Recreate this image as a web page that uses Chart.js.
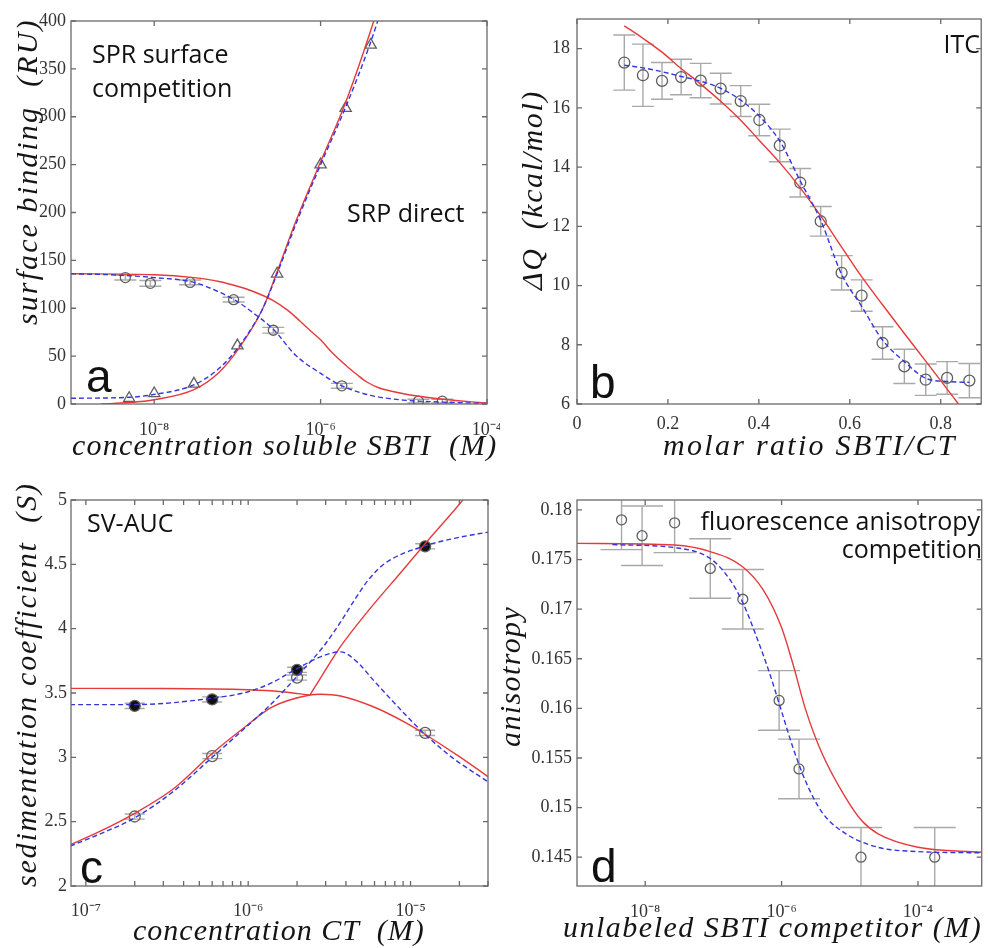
<!DOCTYPE html>
<html><head><meta charset="utf-8">
<script src="https://cdn.jsdelivr.net/npm/chart.js@4.4.1/dist/chart.umd.min.js"></script>
<style>
html,body{margin:0;padding:0;background:#fff;}
#wrap{position:relative;width:988px;height:948px;overflow:hidden;background:#fff;}
canvas{position:absolute;}
</style></head><body>
<div id="wrap">
<canvas id="ca" width="500" height="470" style="left:0px;top:0px;width:500px;height:470px"></canvas>
<canvas id="cb" width="488" height="470" style="left:500px;top:0px;width:488px;height:470px"></canvas>
<canvas id="cc" width="500" height="478" style="left:0px;top:470px;width:500px;height:478px"></canvas>
<canvas id="cd" width="488" height="478" style="left:500px;top:470px;width:488px;height:478px"></canvas>
</div>
<script>
// ---------------- Panel a : SPR ----------------
const aCircX = [4.5e-9, 9e-9, 2.7e-8, 9e-8, 2.7e-7, 1.8e-6, 1.5e-5, 2.9e-5];
const aCircY = [132, 126, 127, 109, 77, 19, 3, 3];
const aCircErr = [2.5, 3, 2.5, 2.5, 3, 2.5, 2, 2];
const aTriX = [5e-9, 1e-8, 3e-8, 1e-7, 3e-7, 1e-6, 2e-6, 4e-6];
const aTriY = [6, 11, 21, 61, 136, 250, 309, 375];
const aBlueCompX = [1e-9, 3e-9, 1e-8, 3e-8, 6e-8, 1e-7, 1.5e-7, 2.7e-7, 5e-7, 1e-6, 1.8e-6, 4e-6, 1e-5, 3e-5, 1e-4];
const aBlueCompY = [136, 135, 132, 127, 117, 107, 96, 78, 51, 32, 19, 9, 4, 2, 0.5];
const aRedCompX = [1e-9, 1e-8, 3e-8, 6e-8, 1e-7, 1.5e-7, 2.7e-7, 4e-7, 5.6e-7, 7e-7, 1e-6, 1.4e-6, 2.1e-6, 2.8e-6, 3.6e-6, 5e-6, 9e-6, 2.3e-5, 1e-4];
const aRedCompY = [136, 135, 132, 128, 123, 118, 108, 98, 87, 79, 67, 53, 39, 30, 23, 17, 11.5, 6, 1];
const aBlueDirX = [1e-9, 5e-9, 1e-8, 3e-8, 6e-8, 1e-7, 1.5e-7, 2e-7, 3e-7, 5e-7, 1e-6, 2e-6, 4e-6, 6e-6];
const aBlueDirY = [6, 7, 10, 20, 37, 58, 80, 99, 136, 187, 250, 310, 378, 425];
const aRedDirX = [2.3e-9, 5e-9, 1e-8, 3e-8, 6e-8, 1e-7, 2e-7, 3e-7, 5e-7, 1e-6, 2e-6, 4e-6, 6e-6];
const aRedDirY = [0, 1.5, 4.5, 15, 33, 56, 99, 138, 190, 253, 315, 390, 440];
const aXTicks = [1e-8, 1e-6, 1e-4];
const aXTickLabels = ['10\u207B\u2078', '10\u207B\u2076', '10\u207B\u2074'];
const aYTicks = [0, 50, 100, 150, 200, 250, 300, 350, 400];
const aYTickLabels = ['0', '50', '100', '150', '200', '250', '300', '350', '400'];

// ---------------- Panel b : ITC ----------------
const bX = [0.104, 0.145, 0.187, 0.229, 0.272, 0.316, 0.360, 0.401, 0.446, 0.491, 0.536, 0.582, 0.626, 0.672, 0.720, 0.767, 0.814, 0.863];
const bY = [17.53, 17.10, 16.91, 17.04, 16.92, 16.65, 16.23, 15.59, 14.73, 13.47, 12.17, 10.43, 9.66, 8.06, 7.27, 6.82, 6.88, 6.79];
const bErr = [0.93, 1.05, 0.62, 0.6, 0.58, 0.52, 0.52, 0.53, 0.55, 0.48, 0.5, 0.58, 0.53, 0.55, 0.58, 0.53, 0.55, 0.58];
const bBlueY = [17.44, 17.35, 17.22, 17.06, 16.9, 16.66, 16.26, 15.72, 14.88, 13.53, 12.2, 10.38, 9.3, 8.16, 7.43, 6.87, 6.76, 6.73];
const bRedX = [0.104, 0.145, 0.187, 0.229, 0.272, 0.316, 0.360, 0.401, 0.446, 0.491, 0.536, 0.582, 0.626, 0.672, 0.720, 0.767, 0.839];
const bRedY = [18.77, 18.35, 17.88, 17.33, 16.8, 16.22, 15.58, 14.9, 14.15, 13.3, 12.35, 11.3, 10.3, 9.35, 8.38, 7.45, 6.0];
const bXTicks = [0, 0.2, 0.4, 0.6, 0.8];
const bXTickLabels = ['0', '0.2', '0.4', '0.6', '0.8'];
const bYTicks = [6, 8, 10, 12, 14, 16, 18];
const bYTickLabels = ['6', '8', '10', '12', '14', '16', '18'];

// ---------------- Panel c : SV-AUC ----------------
const cX = [2e-7, 6e-7, 2e-6, 1.23e-5];
const cFilledY = [3.40, 3.45, 3.68, 4.64];
const cOpenY = [2.54, 3.01, 3.62, 3.19];
const cErr = [0.02, 0.02, 0.02, 0.02];
const cBlueAX = [8e-8, 2e-7, 6e-7, 1e-6, 1.4e-6, 2e-6, 2.9e-6, 3.7e-6, 4.7e-6, 5.9e-6, 8.7e-6, 1.2e-5, 1.8e-5, 3e-5];
const cBlueAY = [3.41, 3.41, 3.46, 3.51, 3.58, 3.69, 3.79, 3.82, 3.74, 3.60, 3.37, 3.19, 3.0, 2.81];
const cBlueBX = [8e-8, 1.2e-7, 2e-7, 3.5e-7, 6e-7, 1e-6, 1.4e-6, 2e-6, 2.9e-6, 3.7e-6, 4.5e-6, 5.5e-6, 7e-6, 1.2e-5, 2e-5, 3e-5];
const cBlueBY = [2.31, 2.40, 2.53, 2.74, 3.0, 3.25, 3.42, 3.63, 3.86, 4.05, 4.22, 4.38, 4.51, 4.64, 4.71, 4.75];
const cRedFlatX = [8e-8, 3e-7, 1e-6, 1.6e-6, 2.4e-6];
const cRedFlatY = [3.536, 3.535, 3.525, 3.51, 3.484];
const cRedRiseX = [2.4e-6, 2.8e-6, 3.7e-6, 5.5e-6, 8.9e-6, 1.23e-5, 2.1e-5, 3e-5];
const cRedRiseY = [3.484, 3.62, 3.86, 4.14, 4.45, 4.66, 5.0, 5.25];
const cRedLowX = [8e-8, 1.2e-7, 2e-7, 3.5e-7, 6e-7, 9e-7, 1.4e-6, 2.4e-6, 2.8e-6, 3.7e-6, 5.9e-6, 9.5e-6, 1.2e-5, 2e-5, 3e-5];
const cRedLowY = [2.32, 2.42, 2.565, 2.76, 3.03, 3.21, 3.39, 3.484, 3.49, 3.477, 3.393, 3.264, 3.187, 3.005, 2.85];
const cXTicks = [1e-7, 1e-6, 1e-5];
const cXTickLabels = ['10\u207B\u2077', '10\u207B\u2076', '10\u207B\u2075'];
const cXMinorTicks = [2e-7, 3e-7, 4e-7, 5e-7, 6e-7, 7e-7, 8e-7, 9e-7, 2e-6, 3e-6, 4e-6, 5e-6, 6e-6, 7e-6, 8e-6, 9e-6, 2e-5, 3e-5];
const cYTicks = [2, 2.5, 3, 3.5, 4, 4.5, 5];
const cYTickLabels = ['2', '2.5', '3', '3.5', '4', '4.5', '5'];

// ---------------- Panel d : fluorescence anisotropy ----------------
const dX = [4.5e-9, 9e-9, 2.7e-8, 9e-8, 2.7e-7, 9.2e-7, 1.8e-6, 1.46e-5, 1.76e-4];
const dY = [0.1790, 0.1774, 0.1787, 0.1741, 0.1710, 0.1608, 0.1539, 0.1450, 0.1450];
const dErr = [0.003, 0.003, 0.003, 0.003, 0.003, 0.003, 0.003, 0.003, 0.003];
const dBlueX = [3.3e-9, 2.7e-8, 9e-8, 1.78e-7, 2.68e-7, 4.3e-7, 6.7e-7, 9.9e-7, 1.46e-6, 2.27e-6, 3.94e-6, 8.6e-6, 2.6e-5, 1e-4, 8.6e-4];
const dBlueY = [0.1765, 0.1762, 0.1751, 0.1729, 0.1707, 0.1672, 0.1635, 0.1598, 0.1561, 0.1526, 0.1495, 0.1474, 0.1460, 0.14557, 0.14544];
const dRedX = [1e-9, 2.7e-8, 9e-8, 2.68e-7, 5.4e-7, 9.9e-7, 1.46e-6, 2.27e-6, 3.94e-6, 8.6e-6, 1.49e-5, 2.6e-5, 1e-4, 8.6e-4];
const dRedY = [0.17663, 0.17646, 0.17579, 0.17428, 0.17192, 0.16822, 0.16452, 0.1598, 0.15543, 0.15106, 0.1487, 0.14736, 0.14601, 0.1455];
const dXTicks = [1e-8, 1e-6, 1e-4];
const dXTickLabels = ['10\u207B\u2078', '10\u207B\u2076', '10\u207B\u2074'];
const dYTicks = [0.145, 0.15, 0.155, 0.16, 0.165, 0.17, 0.175, 0.18];
const dYTickLabels = ['0.145', '0.15', '0.155', '0.16', '0.165', '0.17', '0.175', '0.18'];

// ---------------- styles & helpers ----------------
const RED = '#e63a3a';
const BLUE = '#3535e0';
const MARK = '#5f5f5f';
const ERRC = '#a9a9a9';
const tickFont = {family: "'Liberation Serif', 'Times New Roman', serif", size: 18};
const tickColor = '#333';
const titleFont = "italic 30px 'Liberation Serif', serif";
const titleColor = '#151515';
const annFont = "25px 'Open Sans', 'Liberation Sans', sans-serif";
const letterFont = "46px 'Liberation Sans', Arial, sans-serif";

const pts = (xs, ys) => xs.map((x, i) => ({x: x, y: ys[i]}));

function fit(xs, ys, color, dashed) {
  return {data: pts(xs, ys), showLine: true, borderColor: color, borderWidth: 1.4,
    borderDash: dashed ? [5, 3] : [], pointRadius: 0, fill: false,
    cubicInterpolationMode: 'monotone', tension: 0.4};
}
function marks(xs, ys, errs, o) {
  return {data: pts(xs, ys), showLine: false, pointStyle: o.style || 'circle',
    pointRadius: o.r || 5, borderColor: MARK, borderWidth: 1.3,
    backgroundColor: o.fill || 'rgba(0,0,0,0)', errY: errs, capHalf: o.cap || 11};
}

const errPlugin = {
  id: 'errbars',
  beforeDatasetsDraw(chart) {
    const ctx = chart.ctx, a = chart.chartArea, xs = chart.scales.x, ys = chart.scales.y;
    ctx.save();
    ctx.beginPath(); ctx.rect(a.left, a.top, a.right - a.left, a.bottom - a.top); ctx.clip();
    ctx.strokeStyle = ERRC; ctx.lineWidth = 1.4;
    chart.data.datasets.forEach(ds => {
      if (!ds.errY) return;
      ds.data.forEach((p, i) => {
        const x = xs.getPixelForValue(p.x);
        const y1 = ys.getPixelForValue(p.y - ds.errY[i]);
        const y2 = ys.getPixelForValue(p.y + ds.errY[i]);
        const c = ds.capHalf;
        ctx.beginPath();
        ctx.moveTo(x, y1); ctx.lineTo(x, y2);
        ctx.moveTo(x - c, y1); ctx.lineTo(x + c, y1);
        ctx.moveTo(x - c, y2); ctx.lineTo(x + c, y2);
        ctx.stroke();
      });
    });
    ctx.restore();
  }
};

function makeBox(xTicks, yTicks) {
  return {
    id: 'box',
    afterDatasetsDraw(chart) {
      const ctx = chart.ctx, a = chart.chartArea, xs = chart.scales.x, ys = chart.scales.y;
      const L = 5;
      ctx.save();
      ctx.strokeStyle = '#6a6a6a'; ctx.lineWidth = 1.3;
      ctx.beginPath();
      xTicks.forEach(v => {
        const p = xs.getPixelForValue(v);
        ctx.moveTo(p, a.bottom); ctx.lineTo(p, a.bottom - L);
        ctx.moveTo(p, a.top); ctx.lineTo(p, a.top + L);
      });
      yTicks.forEach(v => {
        const p = ys.getPixelForValue(v);
        ctx.moveTo(a.left, p); ctx.lineTo(a.left + L, p);
        ctx.moveTo(a.right, p); ctx.lineTo(a.right - L, p);
      });
      ctx.stroke();
      ctx.strokeRect(a.left, a.top, a.right - a.left, a.bottom - a.top);
      ctx.restore();
    }
  };
}

function makeTexts(items) {
  return {
    id: 'texts',
    afterDraw(chart) {
      const ctx = chart.ctx;
      items.forEach(it => {
        ctx.save();
        ctx.font = it.font; ctx.fillStyle = it.color || '#111';
        ctx.textAlign = it.align || 'left'; ctx.textBaseline = 'alphabetic';
        if ('letterSpacing' in ctx) ctx.letterSpacing = (it.ls || 0) + 'px';
        ctx.translate(it.x, it.y);
        if (it.rot) ctx.rotate(it.rot);
        ctx.fillText(it.text, 0, 0);
        ctx.restore();
      });
    }
  };
}

function makeChart(id, c) {
  return new Chart(document.getElementById(id), {
    type: 'scatter',
    data: {datasets: c.datasets},
    options: {
      responsive: false, animation: false, events: [],
      layout: {padding: c.pad},
      plugins: {legend: {display: false}, tooltip: {enabled: false}},
      scales: {
        x: {
          type: c.x.type, min: c.x.min, max: c.x.max,
          grid: {display: false, drawTicks: false}, border: {display: false},
          ticks: {font: tickFont, color: tickColor, padding: c.x.pad, autoSkip: false,
            maxRotation: 0, minRotation: 0, callback: (v, i) => c.x.labels[i]},
          afterBuildTicks: s => { s.ticks = c.x.ticks.map(v => ({value: v})); },
          afterFit: s => { s.height = c.xH; s.paddingLeft = 0; s.paddingRight = 0; }
        },
        y: {
          type: 'linear', min: c.y.min, max: c.y.max,
          grid: {display: false, drawTicks: false}, border: {display: false},
          ticks: {font: tickFont, color: tickColor, padding: c.y.pad, autoSkip: false,
            callback: (v, i) => c.y.labels[i]},
          afterBuildTicks: s => { s.ticks = c.y.ticks.map(v => ({value: v})); },
          afterFit: s => { s.width = c.yW; s.paddingTop = 0; s.paddingBottom = 0; }
        }
      }
    },
    plugins: [errPlugin, makeBox(c.boxX, c.boxY), makeTexts(c.texts)]
  });
}

const ROT = -Math.PI / 2;

// Panel a
makeChart('ca', {
  datasets: [
    fit(aBlueDirX, aBlueDirY, BLUE, true),
    fit(aRedDirX, aRedDirY, RED, false),
    fit(aBlueCompX, aBlueCompY, BLUE, true),
    fit(aRedCompX, aRedCompY, RED, false),
    marks(aCircX, aCircY, aCircErr, {r: 5, cap: 11}),
    marks(aTriX, aTriY, null, {style: 'triangle', r: 6.5})
  ],
  x: {type: 'logarithmic', min: 1e-9, max: 1e-4, ticks: aXTicks, labels: aXTickLabels, pad: 15},
  y: {min: 0, max: 400, ticks: aYTicks, labels: aYTickLabels, pad: 5},
  pad: {left: 0, right: 13, top: 21, bottom: 0}, yW: 71, xH: 66,
  boxX: aXTicks, boxY: aYTicks,
  texts: [
    {text: 'SPR surface', x: 92, y: 63, font: annFont},
    {text: 'competition', x: 92, y: 97, font: annFont},
    {text: 'SRP direct', x: 347, y: 222, font: annFont},
    {text: 'a', x: 86, y: 392, font: letterFont},
    {text: 'concentration soluble SBTI  (M)', x: 72, y: 455, font: titleFont, ls: 1.2, color: titleColor},
    {text: 'surface binding  (RU)', x: 37, y: 325, font: titleFont, ls: 2.1, rot: ROT, color: titleColor}
  ]
});

// Panel b
makeChart('cb', {
  datasets: [
    fit(bX, bBlueY, BLUE, true),
    fit(bRedX, bRedY, RED, false),
    marks(bX, bY, bErr, {r: 5.5, cap: 11})
  ],
  x: {type: 'linear', min: 0, max: 0.889, ticks: bXTicks, labels: bXTickLabels, pad: 9},
  y: {min: 6, max: 19, ticks: bYTicks, labels: bYTickLabels, pad: 7},
  pad: {left: 0, right: 0, top: 19, bottom: 0}, yW: 77, xH: 66,
  boxX: bXTicks, boxY: bYTicks,
  texts: [
    {text: 'ITC', x: 480, y: 53, font: annFont, align: 'right'},
    {text: 'b', x: 90, y: 398, font: letterFont},
    {text: 'molar ratio SBTI/CT', x: 163, y: 455, font: titleFont, ls: 2.3, color: titleColor},
    {text: '\u0394Q  (kcal/mol)', x: 42, y: 290, font: titleFont, ls: 1.6, rot: ROT, color: titleColor}
  ]
});

// Panel c
makeChart('cc', {
  datasets: [
    fit(cBlueAX, cBlueAY, BLUE, true),
    fit(cBlueBX, cBlueBY, BLUE, true),
    fit(cRedFlatX, cRedFlatY, RED, false),
    fit(cRedRiseX, cRedRiseY, RED, false),
    fit(cRedLowX, cRedLowY, RED, false),
    marks(cX, cFilledY, cErr, {r: 5.5, cap: 10, fill: '#111'}),
    marks(cX, cOpenY, cErr, {r: 5.5, cap: 10})
  ],
  x: {type: 'logarithmic', min: 8.1e-8, max: 3.0e-5, ticks: cXTicks, labels: cXTickLabels, pad: 14},
  y: {min: 2, max: 5, ticks: cYTicks, labels: cYTickLabels, pad: 4},
  pad: {left: 0, right: 12, top: 30, bottom: 0}, yW: 71, xH: 62,
  boxX: cXTicks.concat(cXMinorTicks), boxY: cYTicks,
  texts: [
    {text: 'SV-AUC', x: 87, y: 62, font: annFont},
    {text: 'c', x: 80, y: 413, font: letterFont},
    {text: 'concentration CT  (M)', x: 133, y: 470, font: titleFont, ls: 1.0, color: titleColor},
    {text: 'sedimentation coefficient  (S)', x: 36, y: 417, font: titleFont, ls: 1.8, rot: ROT, color: titleColor}
  ]
});

// Panel d
makeChart('cd', {
  datasets: [
    fit(dBlueX, dBlueY, BLUE, true),
    fit(dRedX, dRedY, RED, false),
    marks(dX, dY, dErr, {r: 5, cap: 21})
  ],
  x: {type: 'logarithmic', min: 1e-9, max: 8.6e-4, ticks: dXTicks, labels: dXTickLabels, pad: 15},
  y: {min: 0.1421, max: 0.1810, ticks: dYTicks, labels: dYTickLabels, pad: 5},
  pad: {left: 0, right: 0, top: 30, bottom: 0}, yW: 77, xH: 62,
  boxX: dXTicks, boxY: dYTicks,
  texts: [
    {text: 'fluorescence anisotropy', x: 480, y: 60, font: annFont, align: 'right'},
    {text: 'competition', x: 482, y: 88, font: annFont, align: 'right'},
    {text: 'd', x: 91, y: 412, font: letterFont},
    {text: 'unlabeled SBTI competitor (M)', x: 63, y: 467, font: titleFont, ls: 1.5, color: titleColor},
    {text: 'anisotropy', x: 20, y: 277, font: titleFont, ls: 1.4, rot: ROT, color: titleColor}
  ]
});
</script>
</body></html>
